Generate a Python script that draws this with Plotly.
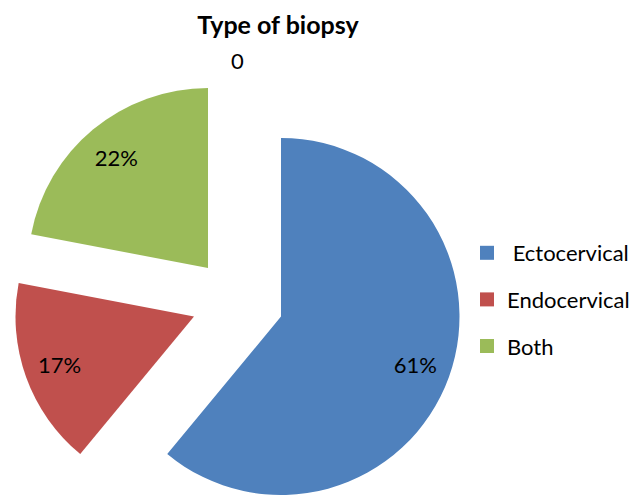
import plotly.graph_objects as go

# ---------------- data ----------------
categories = ["Ectocervical", "Endocervical", "Both"]
percent_values = [61, 17, 22]
zero_label = "0"
title_text = "Type of biopsy"

# ---------------- style / layout ----------------
slice_colors = ["#4F81BD", "#C0504D", "#9BBB59"]
OFF = 8                      # page body margin
W, H = 637 - OFF, 495 - OFF  # figure fills the rest of the window
FONT = "Lato, 'Noto Sans', sans-serif"
CLEAR = "rgba(0,0,0,0)"

# exploded vertex (window px) and radius (px) for each slice
slice_centers = [(281, 316.5), (194, 316.5), (208, 268)]
slice_radii = [178.5, 178.5, 180]


def clamp(v):
    return max(0.0, min(1.0, v))


def px(x, y):
    """window pixel -> paper fraction"""
    return (x - OFF) / W, 1 - (y - OFF) / H


def pie_domain(cx, cy, r):
    x0, y0 = px(cx - r, cy + r)
    x1, y1 = px(cx + r, cy - r)
    return dict(x=[clamp(x0), clamp(x1)], y=[clamp(y0), clamp(y1)])


fig = go.Figure()

for i, cat in enumerate(categories):
    dom = pie_domain(*slice_centers[i], slice_radii[i])
    colors = [slice_colors[j] if j == i else CLEAR for j in range(len(categories))]
    # the visible slice
    fig.add_trace(go.Pie(
        labels=categories, values=percent_values, sort=False,
        direction="clockwise", rotation=0,
        marker=dict(colors=colors, line=dict(width=0)),
        textinfo="none", hoverinfo="skip", showlegend=False,
        domain=dom,
    ))
    # transparent ring used only to place the percentage label
    fig.add_trace(go.Pie(
        labels=categories, values=percent_values, sort=False,
        direction="clockwise", rotation=0, hole=0.6,
        marker=dict(colors=[CLEAR] * len(categories), line=dict(width=0)),
        texttemplate=["%{percent:.0%}" if j == i else "" for j in range(len(categories))],
        textposition="inside", insidetextorientation="horizontal",
        textfont=dict(family=FONT, size=22, color="#000000"),
        hoverinfo="skip", showlegend=False,
        domain=dom,
    ))

# legend entries
for i, cat in enumerate(categories):
    fig.add_trace(go.Scatter(
        x=[None], y=[None], mode="markers",
        marker=dict(symbol="square", size=14, color=slice_colors[i]),
        name=("\u00a0" + cat) if i == 0 else cat,
        legendgroup=cat, showlegend=True, hoverinfo="skip",
    ))

zx, zy = px(237, 60)
fig.add_annotation(
    x=zx, y=zy, xref="paper", yref="paper",
    text=zero_label, showarrow=False,
    font=dict(family=FONT, size=22, color="#000000"),
    xanchor="center", yanchor="middle",
)

tx, ty = px(278, 25)
lx, ly = px(467, 232)
fig.update_layout(
    width=W, height=H,
    margin=dict(l=0, r=0, t=0, b=0),
    paper_bgcolor="white", plot_bgcolor="white",
    title=dict(text="<b>" + title_text + "</b>", x=tx, xanchor="center",
               y=ty, yanchor="middle",
               font=dict(family=FONT, size=25, color="#000000")),
    xaxis=dict(visible=False), yaxis=dict(visible=False),
    legend=dict(x=lx, xanchor="left", y=ly, yanchor="top",
                font=dict(family=FONT, size=22, color="#000000"),
                tracegroupgap=15, bgcolor="rgba(0,0,0,0)"),
    showlegend=True,
)

fig.write_html("out.html")
